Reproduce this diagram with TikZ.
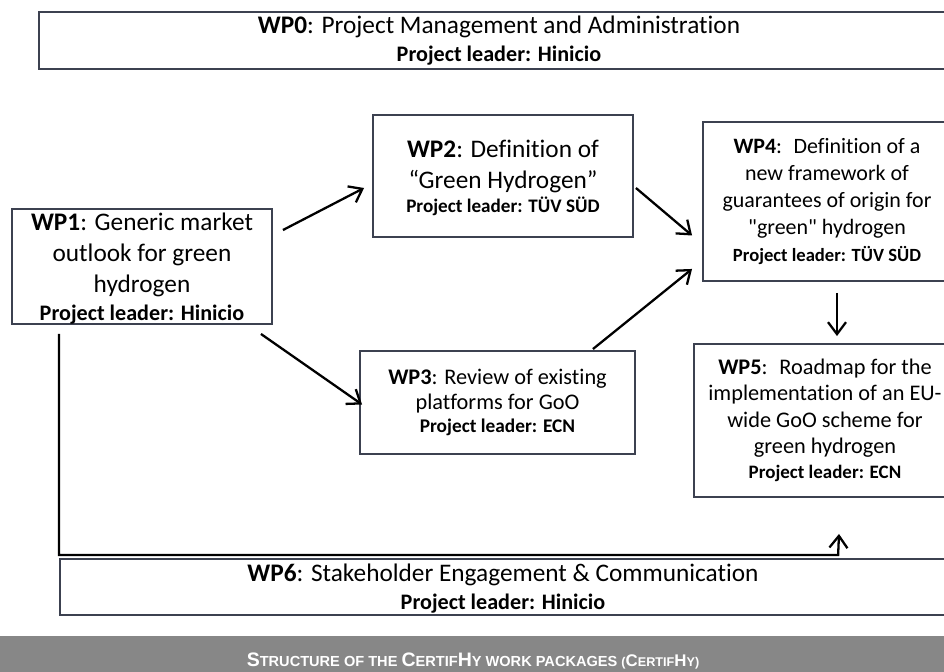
\documentclass[tikz,border=0pt]{standalone}
\usepackage{fontspec}
\setmainfont{Carlito}[Ligatures={TeX,NoCommon}]
\newfontfamily\capfont{Liberation Sans}
\usetikzlibrary{positioning,arrows.meta,calc}
\definecolor{boxc}{HTML}{3C4150}
\definecolor{barc}{HTML}{878787}
\tikzset{
  wpbox/.style={draw=boxc, line width=1.1pt, fill=white, align=center, inner xsep=2pt, inner ysep=0pt},
  flow/.style={-{Straight Barb[length=2.4mm,width=3.6mm,line width=1.3pt]}, line width=1.3pt, black},
}
\newcommand{\wplead}[2]{{\fontsize{#1}{#1}\selectfont\textbf{Project leader: #2}}}
\newcommand{\capbig}[1]{{\fontsize{11.1}{12}\selectfont #1}}
\begin{document}
\begin{tikzpicture}[x=0.02cm,y=-0.02cm]
  \useasboundingbox (0,0) rectangle (944,672);
  \clip (0,0) rectangle (944,672);
  % work packages
  \node[wpbox, minimum width=18.4cm, minimum height=1.14cm, font=\fontsize{14.4}{16.4}\selectfont] (wp0) at (499,40.5)
    {\textbf{WP0}: Project Management and Administration\\ \wplead{12.6}{Hinicio}};
  \node[wpbox, minimum width=5.2cm, minimum height=2.3cm, text depth=-0.4pt, font=\fontsize{14.4}{17.6}\selectfont] (wp1) at (142,266.5)
    {\textbf{WP1}: Generic market\\ outlook for green\\ hydrogen\\[-1.7pt] \wplead{12.6}{Hinicio}};
  \node[wpbox, minimum width=5.2cm, minimum height=2.44cm, text depth=-2.7pt, font=\fontsize{14.4}{17.6}\selectfont] (wp2) at (503,176)
    {\textbf{WP2}: Definition of\\ “Green Hydrogen”\\[-4pt] \wplead{10.9}{TÜV SÜD}};
  \node[wpbox, minimum width=5.5cm, minimum height=2.06cm, font=\fontsize{12.7}{14.2}\selectfont] (wp3) at (497.5,402.5)
    {\textbf{WP3}: Review of existing\\ platforms for GoO\\[-1pt] \wplead{11}{ECN}};
  \node[wpbox, minimum width=4.96cm, minimum height=3.18cm, font=\fontsize{12.5}{15.3}\selectfont] (wp4) at (827,201.5)
    {\textbf{WP4}:~ Definition of a\\ new framework of\\ guarantees of origin for\\ \textquotedbl green\textquotedbl{} hydrogen\\ \wplead{10.6}{TÜV SÜD}};
  \node[wpbox, minimum width=5.24cm, minimum height=3.06cm, font=\fontsize{12.7}{15}\selectfont] (wp5) at (825,420.5)
    {\textbf{WP5}:~ Roadmap for the\\ implementation of an EU-\\ wide GoO scheme for\\ green hydrogen\\[-0.6pt] \wplead{10.8}{ECN}};
  \node[wpbox, minimum width=17.72cm, minimum height=1.12cm, text depth=0pt, font=\fontsize{14.4}{15.9}\selectfont] (wp6) at (503,587)
    {\textbf{WP6}: Stakeholder Engagement \& Communication\\ \wplead{12.6}{Hinicio}};
  % connectors
  \draw[flow] ($(wp1.north east)+(10,22)$) -- ($(wp2.west)+(-8,12)$);
  \draw[flow] ($(wp1.south east)+(-12,9)$) -- ($(wp3.west)+(3,2)$);
  \draw[flow] ($(wp2.east)+(2,12)$) -- ($(wp4.west)+(-10,34)$);
  \draw[flow] ($(wp3.north east)+(-43,-1)$) -- ($(wp4.south west)+(-10,-13)$);
  \draw[flow] ($(wp4.south)+(10,11)$) -- ($(wp5.north)+(12,-7)$);
  \draw[flow] ($(wp1.south west)+(48,9)$) |- ($(wp6.north west)+(779,-3)$) -- ($(wp5.south)+(14,36)$);
  % caption bar
  \fill[barc] (0,636) rectangle (944,672);
  \node[text=white, font=\capfont\bfseries\fontsize{8.3}{9}\selectfont] (caption) at (473,661)
    {\capbig{S}TRUCTURE OF THE \capbig{C}ERTIF\capbig{H}Y WORK PACKAGES {\fontsize{7.2}{8}\selectfont(\fontsize{9.6}{10}\selectfont C\fontsize{7.2}{8}\selectfont ERTIF\fontsize{9.6}{10}\selectfont H\fontsize{7.2}{8}\selectfont Y)}};
\end{tikzpicture}
\end{document}
